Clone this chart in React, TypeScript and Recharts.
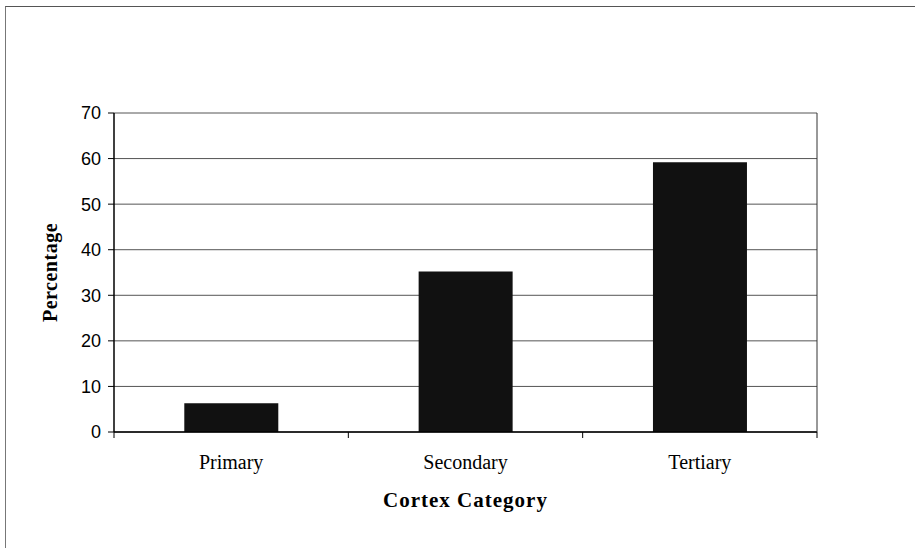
import React from 'react';
import { BarChart, Bar, XAxis, YAxis, CartesianGrid, Label } from 'recharts';

const categories = ['Primary', 'Secondary', 'Tertiary'];
const percentages = [6.3, 35.2, 59.2];
const yTicks = [0, 10, 20, 30, 40, 50, 60, 70];

const data = categories.map((name, i) => ({ name, value: percentages[i] }));

const serif = '"Liberation Serif", "Times New Roman", serif';
const sans = '"Liberation Sans", Arial, sans-serif';

// category label plus tick marks on the band boundaries (Excel style)
const CategoryTick = (props: any) => {
  const { x, y, payload, index, visibleTicksCount } = props;
  const half = payload && payload.offset ? payload.offset : 0;
  const last = index === (visibleTicksCount ?? categories.length) - 1;
  return (
    <g>
      <line x1={x - half} x2={x - half} y1={y} y2={y + 6} stroke="#000" strokeWidth={1} />
      {last && <line x1={x + half} x2={x + half} y1={y} y2={y + 6} stroke="#000" strokeWidth={1} />}
      <text x={x} y={y + 23} dy="0.71em" textAnchor="middle" fill="#000" fontFamily={serif} fontSize={20}>
        {payload.value}
      </text>
    </g>
  );
};

export default function App() {
  return (
    <div style={{ position: 'absolute', left: 0, top: 0, width: 915, height: 548, background: '#fff' }}>
      <div
        style={{
          position: 'absolute',
          left: 5,
          top: 6,
          width: 910,
          height: 542,
          borderLeft: '1px solid #777',
          borderTop: '1px solid #555',
        }}
      />
      <BarChart
        width={915}
        height={548}
        data={data}
        margin={{ top: 113, right: 97, bottom: 0, left: 50 }}
        barCategoryGap="30%"
      >
        <CartesianGrid vertical={false} stroke="#555" strokeWidth={1} />
        <XAxis
          dataKey="name"
          height={116}
          axisLine={{ stroke: '#000', strokeWidth: 1.5 }}
          tickLine={false}
          tickSize={0}
          tickMargin={0}
          interval={0}
          tick={<CategoryTick />}
        >
          <Label
            value="Cortex Category"
            position="insideTop"
            offset={60}
            style={{ fill: '#000', fontFamily: serif, fontSize: 21, fontWeight: 'bold', letterSpacing: 1 }}
          />
        </XAxis>
        <YAxis
          domain={[0, 70]}
          ticks={yTicks}
          width={64}
          tickSize={6}
          tickMargin={7}
          axisLine={{ stroke: '#000', strokeWidth: 1.5 }}
          tickLine={{ stroke: '#000' }}
          tick={{ fill: '#000', fontFamily: sans, fontSize: 18 }}
        >
          <Label
            value="Percentage"
            angle={-90}
            position="insideLeft"
            offset={0}
            style={{ textAnchor: 'middle', fill: '#000', fontFamily: serif, fontSize: 20, fontWeight: 'bold', letterSpacing: 0.5 }}
          />
        </YAxis>
        <YAxis
          yAxisId="frame"
          orientation="right"
          domain={[0, 70]}
          width={1}
          tick={false}
          tickLine={false}
          axisLine={{ stroke: '#333', strokeWidth: 1 }}
        />
        <Bar dataKey="value" fill="#111" isAnimationActive={false} />
      </BarChart>
    </div>
  );
}
